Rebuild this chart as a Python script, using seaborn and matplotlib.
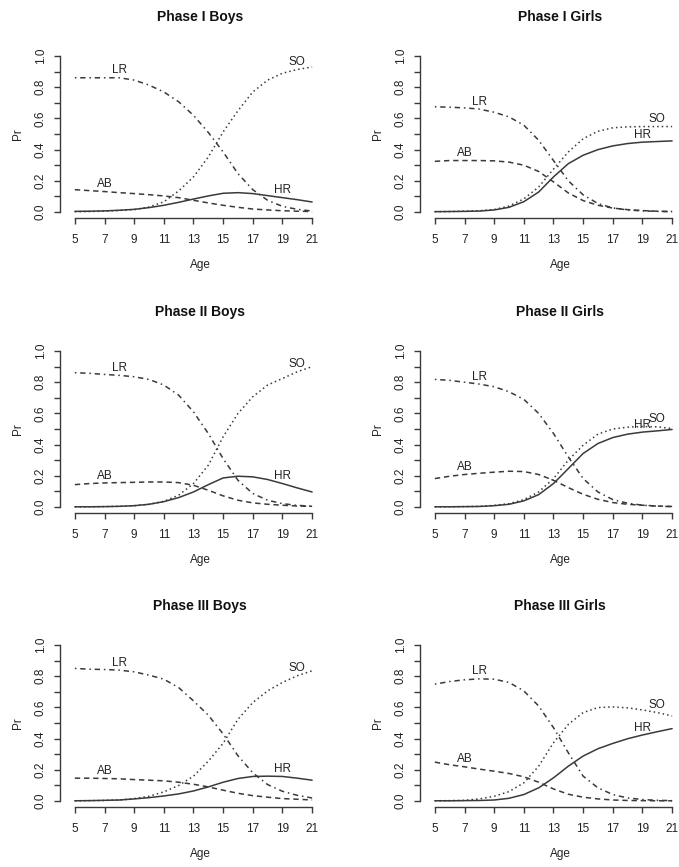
import numpy as np
import pandas as pd
import matplotlib
matplotlib.use("Agg")
import matplotlib.pyplot as plt
import seaborn as sns

# ages on the x axis
ages = list(range(5, 22))

# Phase I Boys
p1b_lr = [0.861, 0.861, 0.861, 0.861, 0.846, 0.814, 0.770, 0.707, 0.620, 0.510, 0.385, 0.246, 0.143, 0.075, 0.036, 0.017, 0.006]
p1b_so = [0.002, 0.003, 0.005, 0.010, 0.015, 0.032, 0.065, 0.135, 0.225, 0.353, 0.514, 0.650, 0.770, 0.846, 0.890, 0.914, 0.930]
p1b_ab = [0.143, 0.137, 0.131, 0.124, 0.118, 0.111, 0.103, 0.092, 0.075, 0.058, 0.043, 0.030, 0.019, 0.013, 0.008, 0.005, 0.003]
p1b_hr = [0.004, 0.005, 0.007, 0.011, 0.017, 0.028, 0.043, 0.062, 0.083, 0.103, 0.120, 0.124, 0.118, 0.105, 0.092, 0.079, 0.064]

# Phase I Girls
p1g_lr = [0.675, 0.672, 0.668, 0.660, 0.640, 0.610, 0.557, 0.460, 0.330, 0.200, 0.110, 0.054, 0.026, 0.013, 0.007, 0.004, 0.002]
p1g_so = [0.002, 0.003, 0.005, 0.008, 0.016, 0.038, 0.084, 0.160, 0.275, 0.385, 0.470, 0.518, 0.540, 0.546, 0.548, 0.548, 0.548]
p1g_ab = [0.325, 0.330, 0.330, 0.330, 0.328, 0.320, 0.300, 0.260, 0.193, 0.122, 0.073, 0.043, 0.025, 0.015, 0.009, 0.005, 0.003]
p1g_hr = [0.002, 0.003, 0.004, 0.006, 0.013, 0.030, 0.066, 0.128, 0.225, 0.310, 0.364, 0.400, 0.424, 0.439, 0.448, 0.452, 0.456]

# Phase II Boys
p2b_lr = [0.861, 0.857, 0.850, 0.844, 0.835, 0.818, 0.782, 0.717, 0.610, 0.471, 0.310, 0.171, 0.086, 0.043, 0.021, 0.010, 0.005]
p2b_so = [0.001, 0.001, 0.002, 0.004, 0.008, 0.017, 0.036, 0.075, 0.150, 0.268, 0.450, 0.600, 0.707, 0.782, 0.824, 0.867, 0.900]
p2b_ab = [0.143, 0.150, 0.154, 0.156, 0.158, 0.160, 0.160, 0.156, 0.139, 0.107, 0.071, 0.043, 0.026, 0.017, 0.011, 0.006, 0.004]
p2b_hr = [0.001, 0.001, 0.002, 0.004, 0.008, 0.017, 0.034, 0.060, 0.096, 0.143, 0.186, 0.197, 0.193, 0.176, 0.150, 0.122, 0.096]

# Phase II Girls
p2g_lr = [0.818, 0.812, 0.800, 0.788, 0.771, 0.739, 0.690, 0.600, 0.471, 0.321, 0.182, 0.096, 0.047, 0.024, 0.011, 0.005, 0.002]
p2g_so = [0.001, 0.001, 0.002, 0.004, 0.010, 0.021, 0.047, 0.096, 0.182, 0.300, 0.396, 0.467, 0.500, 0.512, 0.516, 0.514, 0.503]
p2g_ab = [0.182, 0.197, 0.208, 0.216, 0.223, 0.229, 0.227, 0.208, 0.171, 0.124, 0.081, 0.049, 0.028, 0.017, 0.011, 0.006, 0.003]
p2g_hr = [0.001, 0.001, 0.002, 0.003, 0.008, 0.017, 0.039, 0.079, 0.150, 0.246, 0.343, 0.407, 0.445, 0.467, 0.480, 0.488, 0.497]

# Phase III Boys
p3b_lr = [0.850, 0.845, 0.843, 0.839, 0.828, 0.807, 0.781, 0.727, 0.642, 0.550, 0.430, 0.290, 0.180, 0.105, 0.062, 0.036, 0.019]
p3b_so = [0.001, 0.002, 0.003, 0.006, 0.015, 0.030, 0.058, 0.099, 0.159, 0.255, 0.370, 0.524, 0.631, 0.706, 0.760, 0.803, 0.835]
p3b_ab = [0.146, 0.146, 0.144, 0.142, 0.137, 0.133, 0.129, 0.120, 0.107, 0.090, 0.069, 0.049, 0.034, 0.024, 0.015, 0.011, 0.006]
p3b_hr = [0.001, 0.002, 0.004, 0.006, 0.013, 0.021, 0.032, 0.045, 0.064, 0.090, 0.120, 0.144, 0.157, 0.159, 0.157, 0.146, 0.133]

# Phase III Girls
p3g_lr = [0.749, 0.766, 0.777, 0.783, 0.781, 0.760, 0.706, 0.609, 0.470, 0.309, 0.159, 0.084, 0.041, 0.019, 0.009, 0.004, 0.002]
p3g_so = [0.001, 0.002, 0.004, 0.013, 0.030, 0.060, 0.116, 0.223, 0.373, 0.491, 0.567, 0.599, 0.603, 0.597, 0.584, 0.567, 0.545]
p3g_ab = [0.249, 0.232, 0.219, 0.204, 0.191, 0.176, 0.155, 0.120, 0.077, 0.043, 0.024, 0.013, 0.006, 0.003, 0.002, 0.001, 0.001]
p3g_hr = [0.001, 0.001, 0.002, 0.003, 0.006, 0.017, 0.041, 0.084, 0.148, 0.223, 0.288, 0.335, 0.369, 0.399, 0.423, 0.444, 0.464]

titles = ["Phase I Boys", "Phase I Girls",
          "Phase II Boys", "Phase II Girls",
          "Phase III Boys", "Phase III Girls"]
panels = [
    {"LR": p1b_lr, "SO": p1b_so, "AB": p1b_ab, "HR": p1b_hr},
    {"LR": p1g_lr, "SO": p1g_so, "AB": p1g_ab, "HR": p1g_hr},
    {"LR": p2b_lr, "SO": p2b_so, "AB": p2b_ab, "HR": p2b_hr},
    {"LR": p2g_lr, "SO": p2g_so, "AB": p2g_ab, "HR": p2g_hr},
    {"LR": p3b_lr, "SO": p3b_so, "AB": p3b_ab, "HR": p3b_hr},
    {"LR": p3g_lr, "SO": p3g_so, "AB": p3g_ab, "HR": p3g_hr},
]

# where each curve gets its text label (age)
label_age = {"LR": 8, "AB": 7, "SO": 20, "HR": 19}

# R style line types
line_styles = {
    "LR": (0, (1, 2.5, 3.5, 2.5)),
    "SO": (0, (1, 2)),
    "AB": (0, (3.5, 2.5)),
    "HR": "-",
}

sns.set_style("ticks")
plt.rcParams["font.family"] = ["Liberation Sans", "DejaVu Sans"]

line_col = "#3a3a3a"
text_col = "#222222"

fig = plt.figure(figsize=(6.79, 8.67), dpi=100)

lefts = [0.0884, 0.6186]
bottoms = [0.7483, 0.4081, 0.069]
w, h = 0.38, 0.1942

for i, (title, series) in enumerate(zip(titles, panels)):
    ax = fig.add_axes([lefts[i % 2], bottoms[i // 2], w, h])
    for name, vals in series.items():
        sns.lineplot(x=ages, y=vals, ax=ax, color=line_col, linewidth=1.1,
                     linestyle=line_styles[name])
        a = label_age[name]
        ax.annotate(name, (a, vals[ages.index(a)]), xytext=(0, 1),
                    textcoords="offset points", ha="center", va="bottom",
                    fontsize=8.5, color=text_col)

    ax.set_xlim(4, 21.4)
    ax.set_ylim(-0.04, 1.04)
    ax.set_xticks(range(5, 22, 2))
    ax.set_yticks(np.arange(0, 1.01, 0.2))
    ax.set_yticks(np.arange(0.1, 1.0, 0.2), minor=True)
    ax.set_yticklabels([f"{v:.1f}" for v in np.arange(0, 1.01, 0.2)],
                       rotation=90, va="center")

    for s in ["top", "right"]:
        ax.spines[s].set_visible(False)
    ax.spines["left"].set_bounds(0, 1)
    ax.spines["bottom"].set_bounds(5, 21)
    for s in ["left", "bottom"]:
        ax.spines[s].set_color(line_col)
        ax.spines[s].set_linewidth(1.0)

    ax.tick_params(axis="both", which="both", direction="out", length=4.5,
                   width=1.0, color=line_col, labelsize=8.5, labelcolor=text_col)
    ax.tick_params(axis="x", pad=7)
    ax.tick_params(axis="y", pad=5)

    ax.set_xlabel("Age", fontsize=8.5, color=text_col)
    ax.set_ylabel("Pr", fontsize=8.5, color=text_col)
    ax.xaxis.set_label_coords(0.543, -0.279)
    ax.xaxis.label.set_va("center")
    ax.yaxis.set_label_coords(-0.163, 0.5)
    ax.yaxis.label.set_va("center")

    ax.text(0.543, 1.196, title, transform=ax.transAxes, ha="center",
            va="center", fontsize=10, fontweight="bold", color="#111111")

fig.savefig("out.png", dpi=100)
